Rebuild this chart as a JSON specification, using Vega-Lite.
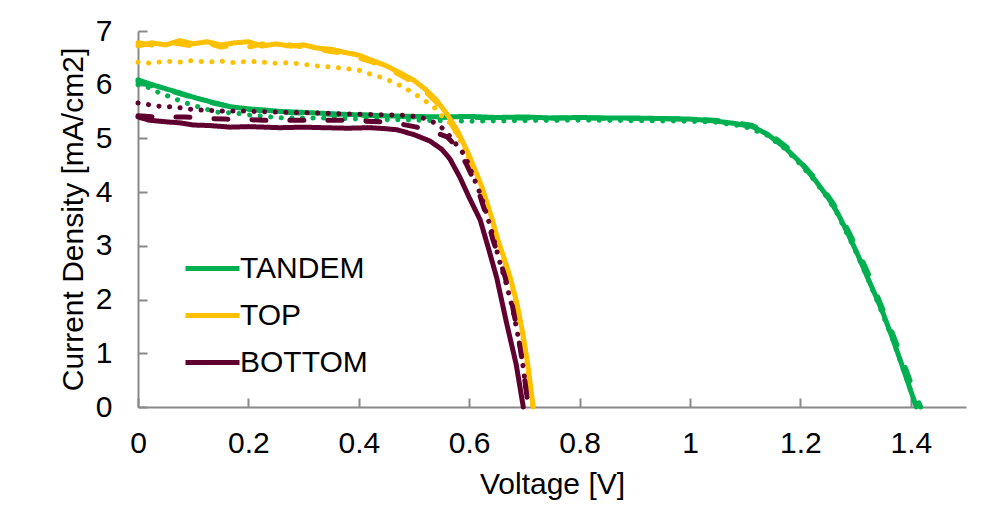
{
"$schema": "https://vega.github.io/schema/vega-lite/v6.json",
"width": 828, "height": 376,
"autosize": {"type": "none"},
"padding": {"left": 138, "top": 31, "right": 42, "bottom": 117},
"background": "white",
"config": {"view": {"stroke": null}, "font": "Liberation Sans"},
"data": {"values": [
{"cell":"TANDEM","curve":"dotted","V":0,"J":6.0},{"cell":"TANDEM","curve":"dotted","V":0.022,"J":5.94},{"cell":"TANDEM","curve":"dotted","V":0.04,"J":5.84},{"cell":"TANDEM","curve":"dotted","V":0.06,"J":5.77},{"cell":"TANDEM","curve":"dotted","V":0.08,"J":5.68},{"cell":"TANDEM","curve":"dotted","V":0.1,"J":5.62},{"cell":"TANDEM","curve":"dotted","V":0.118,"J":5.56},{"cell":"TANDEM","curve":"dotted","V":0.143,"J":5.49},{"cell":"TANDEM","curve":"dotted","V":0.179,"J":5.47},{"cell":"TANDEM","curve":"dotted","V":0.2,"J":5.44},{"cell":"TANDEM","curve":"dotted","V":0.263,"J":5.38},{"cell":"TANDEM","curve":"dotted","V":0.342,"J":5.38},{"cell":"TANDEM","curve":"dotted","V":0.4,"J":5.36},{"cell":"TANDEM","curve":"dotted","V":0.5,"J":5.34},{"cell":"TANDEM","curve":"dotted","V":0.6,"J":5.32},{"cell":"TANDEM","curve":"dotted","V":0.7,"J":5.33},{"cell":"TANDEM","curve":"dotted","V":0.8,"J":5.34},{"cell":"TANDEM","curve":"dotted","V":0.9,"J":5.33},{"cell":"TANDEM","curve":"dotted","V":1.0,"J":5.32},{"cell":"TANDEM","curve":"dotted","V":1.05,"J":5.3},{"cell":"TANDEM","curve":"dotted","V":1.1,"J":5.22},{"cell":"TANDEM","curve":"dotted","V":1.14,"J":5.06},{"cell":"TANDEM","curve":"dotted","V":1.173,"J":4.8},{"cell":"TANDEM","curve":"dotted","V":1.2,"J":4.52},{"cell":"TANDEM","curve":"dotted","V":1.227,"J":4.2},{"cell":"TANDEM","curve":"dotted","V":1.25,"J":3.88},{"cell":"TANDEM","curve":"dotted","V":1.268,"J":3.58},{"cell":"TANDEM","curve":"dotted","V":1.302,"J":2.86},{"cell":"TANDEM","curve":"dotted","V":1.335,"J":2.08},{"cell":"TANDEM","curve":"dotted","V":1.365,"J":1.32},{"cell":"TANDEM","curve":"dotted","V":1.395,"J":0.45},{"cell":"TANDEM","curve":"dotted","V":1.41,"J":0},
{"cell":"TANDEM","curve":"dashed","V":0,"J":6.05},{"cell":"TANDEM","curve":"dashed","V":0.03,"J":5.97},{"cell":"TANDEM","curve":"dashed","V":0.06,"J":5.88},{"cell":"TANDEM","curve":"dashed","V":0.1,"J":5.76},{"cell":"TANDEM","curve":"dashed","V":0.14,"J":5.65},{"cell":"TANDEM","curve":"dashed","V":0.18,"J":5.57},{"cell":"TANDEM","curve":"dashed","V":0.22,"J":5.52},{"cell":"TANDEM","curve":"dashed","V":0.28,"J":5.48},{"cell":"TANDEM","curve":"dashed","V":0.35,"J":5.45},{"cell":"TANDEM","curve":"dashed","V":0.42,"J":5.43},{"cell":"TANDEM","curve":"dashed","V":0.5,"J":5.4},{"cell":"TANDEM","curve":"dashed","V":0.6,"J":5.39},{"cell":"TANDEM","curve":"dashed","V":0.7,"J":5.38},{"cell":"TANDEM","curve":"dashed","V":0.8,"J":5.38},{"cell":"TANDEM","curve":"dashed","V":0.9,"J":5.37},{"cell":"TANDEM","curve":"dashed","V":1.0,"J":5.36},{"cell":"TANDEM","curve":"dashed","V":1.06,"J":5.33},{"cell":"TANDEM","curve":"dashed","V":1.113,"J":5.24},{"cell":"TANDEM","curve":"dashed","V":1.14,"J":5.12},{"cell":"TANDEM","curve":"dashed","V":1.18,"J":4.8},{"cell":"TANDEM","curve":"dashed","V":1.21,"J":4.45},{"cell":"TANDEM","curve":"dashed","V":1.235,"J":4.15},{"cell":"TANDEM","curve":"dashed","V":1.26,"J":3.78},{"cell":"TANDEM","curve":"dashed","V":1.28,"J":3.42},{"cell":"TANDEM","curve":"dashed","V":1.3,"J":3.0},{"cell":"TANDEM","curve":"dashed","V":1.32,"J":2.55},{"cell":"TANDEM","curve":"dashed","V":1.34,"J":2.05},{"cell":"TANDEM","curve":"dashed","V":1.36,"J":1.55},{"cell":"TANDEM","curve":"dashed","V":1.38,"J":1.02},{"cell":"TANDEM","curve":"dashed","V":1.4,"J":0.45},{"cell":"TANDEM","curve":"dashed","V":1.418,"J":0},
{"cell":"TANDEM","curve":"solid","V":0,"J":6.09},{"cell":"TANDEM","curve":"solid","V":0.02,"J":6.02},{"cell":"TANDEM","curve":"solid","V":0.045,"J":5.94},{"cell":"TANDEM","curve":"solid","V":0.075,"J":5.85},{"cell":"TANDEM","curve":"solid","V":0.106,"J":5.75},{"cell":"TANDEM","curve":"solid","V":0.135,"J":5.67},{"cell":"TANDEM","curve":"solid","V":0.167,"J":5.59},{"cell":"TANDEM","curve":"solid","V":0.2,"J":5.55},{"cell":"TANDEM","curve":"solid","V":0.227,"J":5.53},{"cell":"TANDEM","curve":"solid","V":0.26,"J":5.5},{"cell":"TANDEM","curve":"solid","V":0.29,"J":5.49},{"cell":"TANDEM","curve":"solid","V":0.33,"J":5.47},{"cell":"TANDEM","curve":"solid","V":0.37,"J":5.45},{"cell":"TANDEM","curve":"solid","V":0.4,"J":5.44},{"cell":"TANDEM","curve":"solid","V":0.45,"J":5.42},{"cell":"TANDEM","curve":"solid","V":0.5,"J":5.41},{"cell":"TANDEM","curve":"solid","V":0.55,"J":5.4},{"cell":"TANDEM","curve":"solid","V":0.6,"J":5.41},{"cell":"TANDEM","curve":"solid","V":0.65,"J":5.39},{"cell":"TANDEM","curve":"solid","V":0.7,"J":5.4},{"cell":"TANDEM","curve":"solid","V":0.75,"J":5.38},{"cell":"TANDEM","curve":"solid","V":0.8,"J":5.39},{"cell":"TANDEM","curve":"solid","V":0.85,"J":5.38},{"cell":"TANDEM","curve":"solid","V":0.9,"J":5.38},{"cell":"TANDEM","curve":"solid","V":0.95,"J":5.37},{"cell":"TANDEM","curve":"solid","V":1.0,"J":5.36},{"cell":"TANDEM","curve":"solid","V":1.04,"J":5.33},{"cell":"TANDEM","curve":"solid","V":1.08,"J":5.28},{"cell":"TANDEM","curve":"solid","V":1.113,"J":5.22},{"cell":"TANDEM","curve":"solid","V":1.14,"J":5.08},{"cell":"TANDEM","curve":"solid","V":1.173,"J":4.82},{"cell":"TANDEM","curve":"solid","V":1.2,"J":4.55},{"cell":"TANDEM","curve":"solid","V":1.227,"J":4.22},{"cell":"TANDEM","curve":"solid","V":1.25,"J":3.9},{"cell":"TANDEM","curve":"solid","V":1.268,"J":3.6},{"cell":"TANDEM","curve":"solid","V":1.285,"J":3.25},{"cell":"TANDEM","curve":"solid","V":1.302,"J":2.88},{"cell":"TANDEM","curve":"solid","V":1.32,"J":2.45},{"cell":"TANDEM","curve":"solid","V":1.335,"J":2.1},{"cell":"TANDEM","curve":"solid","V":1.35,"J":1.74},{"cell":"TANDEM","curve":"solid","V":1.365,"J":1.33},{"cell":"TANDEM","curve":"solid","V":1.38,"J":0.9},{"cell":"TANDEM","curve":"solid","V":1.395,"J":0.45},{"cell":"TANDEM","curve":"solid","V":1.41,"J":0},
{"cell":"TOP","curve":"dotted","V":0,"J":6.42},{"cell":"TOP","curve":"dotted","V":0.025,"J":6.4},{"cell":"TOP","curve":"dotted","V":0.05,"J":6.44},{"cell":"TOP","curve":"dotted","V":0.075,"J":6.42},{"cell":"TOP","curve":"dotted","V":0.1,"J":6.45},{"cell":"TOP","curve":"dotted","V":0.125,"J":6.42},{"cell":"TOP","curve":"dotted","V":0.15,"J":6.44},{"cell":"TOP","curve":"dotted","V":0.175,"J":6.41},{"cell":"TOP","curve":"dotted","V":0.2,"J":6.44},{"cell":"TOP","curve":"dotted","V":0.225,"J":6.42},{"cell":"TOP","curve":"dotted","V":0.25,"J":6.4},{"cell":"TOP","curve":"dotted","V":0.275,"J":6.41},{"cell":"TOP","curve":"dotted","V":0.3,"J":6.38},{"cell":"TOP","curve":"dotted","V":0.325,"J":6.35},{"cell":"TOP","curve":"dotted","V":0.35,"J":6.33},{"cell":"TOP","curve":"dotted","V":0.375,"J":6.3},{"cell":"TOP","curve":"dotted","V":0.4,"J":6.27},{"cell":"TOP","curve":"dotted","V":0.42,"J":6.2},{"cell":"TOP","curve":"dotted","V":0.44,"J":6.14},{"cell":"TOP","curve":"dotted","V":0.46,"J":6.06},{"cell":"TOP","curve":"dotted","V":0.48,"J":5.96},{"cell":"TOP","curve":"dotted","V":0.5,"J":5.84},{"cell":"TOP","curve":"dotted","V":0.52,"J":5.7},{"cell":"TOP","curve":"dotted","V":0.535,"J":5.6},{"cell":"TOP","curve":"dotted","V":0.547,"J":5.44},{"cell":"TOP","curve":"dotted","V":0.56,"J":5.36},{"cell":"TOP","curve":"dotted","V":0.58,"J":5.05},{"cell":"TOP","curve":"dotted","V":0.6,"J":4.6},{"cell":"TOP","curve":"dotted","V":0.623,"J":4.05},{"cell":"TOP","curve":"dotted","V":0.652,"J":3.08},{"cell":"TOP","curve":"dotted","V":0.674,"J":2.4},{"cell":"TOP","curve":"dotted","V":0.696,"J":1.4},{"cell":"TOP","curve":"dotted","V":0.715,"J":0},
{"cell":"TOP","curve":"dashed","V":0,"J":6.78},{"cell":"TOP","curve":"dashed","V":0.025,"J":6.74},{"cell":"TOP","curve":"dashed","V":0.05,"J":6.8},{"cell":"TOP","curve":"dashed","V":0.075,"J":6.76},{"cell":"TOP","curve":"dashed","V":0.1,"J":6.72},{"cell":"TOP","curve":"dashed","V":0.125,"J":6.78},{"cell":"TOP","curve":"dashed","V":0.15,"J":6.7},{"cell":"TOP","curve":"dashed","V":0.175,"J":6.74},{"cell":"TOP","curve":"dashed","V":0.2,"J":6.7},{"cell":"TOP","curve":"dashed","V":0.225,"J":6.76},{"cell":"TOP","curve":"dashed","V":0.25,"J":6.68},{"cell":"TOP","curve":"dashed","V":0.275,"J":6.74},{"cell":"TOP","curve":"dashed","V":0.3,"J":6.7},{"cell":"TOP","curve":"dashed","V":0.325,"J":6.66},{"cell":"TOP","curve":"dashed","V":0.35,"J":6.62},{"cell":"TOP","curve":"dashed","V":0.375,"J":6.58},{"cell":"TOP","curve":"dashed","V":0.4,"J":6.5},{"cell":"TOP","curve":"dashed","V":0.425,"J":6.42},{"cell":"TOP","curve":"dashed","V":0.45,"J":6.32},{"cell":"TOP","curve":"dashed","V":0.475,"J":6.18},{"cell":"TOP","curve":"dashed","V":0.5,"J":6.04},{"cell":"TOP","curve":"dashed","V":0.52,"J":5.88},{"cell":"TOP","curve":"dashed","V":0.54,"J":5.68},{"cell":"TOP","curve":"dashed","V":0.56,"J":5.4},{"cell":"TOP","curve":"dashed","V":0.58,"J":5.06},{"cell":"TOP","curve":"dashed","V":0.6,"J":4.62},{"cell":"TOP","curve":"dashed","V":0.623,"J":4.04},{"cell":"TOP","curve":"dashed","V":0.64,"J":3.5},{"cell":"TOP","curve":"dashed","V":0.652,"J":3.07},{"cell":"TOP","curve":"dashed","V":0.664,"J":2.7},{"cell":"TOP","curve":"dashed","V":0.674,"J":2.37},{"cell":"TOP","curve":"dashed","V":0.686,"J":1.9},{"cell":"TOP","curve":"dashed","V":0.696,"J":1.38},{"cell":"TOP","curve":"dashed","V":0.706,"J":0.75},{"cell":"TOP","curve":"dashed","V":0.714,"J":0},
{"cell":"TOP","curve":"solid","V":0,"J":6.72},{"cell":"TOP","curve":"solid","V":0.025,"J":6.78},{"cell":"TOP","curve":"solid","V":0.05,"J":6.74},{"cell":"TOP","curve":"solid","V":0.075,"J":6.82},{"cell":"TOP","curve":"solid","V":0.1,"J":6.76},{"cell":"TOP","curve":"solid","V":0.125,"J":6.8},{"cell":"TOP","curve":"solid","V":0.15,"J":6.74},{"cell":"TOP","curve":"solid","V":0.175,"J":6.78},{"cell":"TOP","curve":"solid","V":0.2,"J":6.8},{"cell":"TOP","curve":"solid","V":0.225,"J":6.72},{"cell":"TOP","curve":"solid","V":0.25,"J":6.76},{"cell":"TOP","curve":"solid","V":0.275,"J":6.72},{"cell":"TOP","curve":"solid","V":0.3,"J":6.74},{"cell":"TOP","curve":"solid","V":0.325,"J":6.68},{"cell":"TOP","curve":"solid","V":0.35,"J":6.66},{"cell":"TOP","curve":"solid","V":0.375,"J":6.6},{"cell":"TOP","curve":"solid","V":0.4,"J":6.55},{"cell":"TOP","curve":"solid","V":0.425,"J":6.45},{"cell":"TOP","curve":"solid","V":0.45,"J":6.35},{"cell":"TOP","curve":"solid","V":0.475,"J":6.22},{"cell":"TOP","curve":"solid","V":0.5,"J":6.08},{"cell":"TOP","curve":"solid","V":0.52,"J":5.92},{"cell":"TOP","curve":"solid","V":0.54,"J":5.72},{"cell":"TOP","curve":"solid","V":0.56,"J":5.45},{"cell":"TOP","curve":"solid","V":0.58,"J":5.12},{"cell":"TOP","curve":"solid","V":0.6,"J":4.68},{"cell":"TOP","curve":"solid","V":0.623,"J":4.1},{"cell":"TOP","curve":"solid","V":0.64,"J":3.55},{"cell":"TOP","curve":"solid","V":0.652,"J":3.11},{"cell":"TOP","curve":"solid","V":0.664,"J":2.75},{"cell":"TOP","curve":"solid","V":0.674,"J":2.42},{"cell":"TOP","curve":"solid","V":0.686,"J":1.95},{"cell":"TOP","curve":"solid","V":0.696,"J":1.43},{"cell":"TOP","curve":"solid","V":0.706,"J":0.8},{"cell":"TOP","curve":"solid","V":0.716,"J":0},
{"cell":"BOTTOM","curve":"dotted","V":0,"J":5.66},{"cell":"BOTTOM","curve":"dotted","V":0.025,"J":5.62},{"cell":"BOTTOM","curve":"dotted","V":0.045,"J":5.59},{"cell":"BOTTOM","curve":"dotted","V":0.065,"J":5.59},{"cell":"BOTTOM","curve":"dotted","V":0.089,"J":5.55},{"cell":"BOTTOM","curve":"dotted","V":0.109,"J":5.53},{"cell":"BOTTOM","curve":"dotted","V":0.149,"J":5.51},{"cell":"BOTTOM","curve":"dotted","V":0.19,"J":5.51},{"cell":"BOTTOM","curve":"dotted","V":0.25,"J":5.49},{"cell":"BOTTOM","curve":"dotted","V":0.333,"J":5.47},{"cell":"BOTTOM","curve":"dotted","V":0.4,"J":5.45},{"cell":"BOTTOM","curve":"dotted","V":0.45,"J":5.44},{"cell":"BOTTOM","curve":"dotted","V":0.49,"J":5.43},{"cell":"BOTTOM","curve":"dotted","V":0.516,"J":5.38},{"cell":"BOTTOM","curve":"dotted","V":0.534,"J":5.31},{"cell":"BOTTOM","curve":"dotted","V":0.553,"J":5.18},{"cell":"BOTTOM","curve":"dotted","V":0.568,"J":5.0},{"cell":"BOTTOM","curve":"dotted","V":0.583,"J":4.8},{"cell":"BOTTOM","curve":"dotted","V":0.592,"J":4.69},{"cell":"BOTTOM","curve":"dotted","V":0.607,"J":4.3},{"cell":"BOTTOM","curve":"dotted","V":0.623,"J":3.89},{"cell":"BOTTOM","curve":"dotted","V":0.641,"J":3.26},{"cell":"BOTTOM","curve":"dotted","V":0.656,"J":2.68},{"cell":"BOTTOM","curve":"dotted","V":0.667,"J":2.3},{"cell":"BOTTOM","curve":"dotted","V":0.678,"J":1.86},{"cell":"BOTTOM","curve":"dotted","V":0.687,"J":1.4},{"cell":"BOTTOM","curve":"dotted","V":0.696,"J":0.88},{"cell":"BOTTOM","curve":"dotted","V":0.707,"J":0},
{"cell":"BOTTOM","curve":"dashed","V":0,"J":5.42},{"cell":"BOTTOM","curve":"dashed","V":0.03,"J":5.4},{"cell":"BOTTOM","curve":"dashed","V":0.085,"J":5.4},{"cell":"BOTTOM","curve":"dashed","V":0.12,"J":5.37},{"cell":"BOTTOM","curve":"dashed","V":0.158,"J":5.36},{"cell":"BOTTOM","curve":"dashed","V":0.2,"J":5.35},{"cell":"BOTTOM","curve":"dashed","V":0.227,"J":5.34},{"cell":"BOTTOM","curve":"dashed","V":0.3,"J":5.34},{"cell":"BOTTOM","curve":"dashed","V":0.37,"J":5.34},{"cell":"BOTTOM","curve":"dashed","V":0.438,"J":5.31},{"cell":"BOTTOM","curve":"dashed","V":0.47,"J":5.28},{"cell":"BOTTOM","curve":"dashed","V":0.505,"J":5.21},{"cell":"BOTTOM","curve":"dashed","V":0.53,"J":5.14},{"cell":"BOTTOM","curve":"dashed","V":0.56,"J":5.03},{"cell":"BOTTOM","curve":"dashed","V":0.578,"J":4.84},{"cell":"BOTTOM","curve":"dashed","V":0.595,"J":4.52},{"cell":"BOTTOM","curve":"dashed","V":0.614,"J":4.1},{"cell":"BOTTOM","curve":"dashed","V":0.63,"J":3.6},{"cell":"BOTTOM","curve":"dashed","V":0.643,"J":3.11},{"cell":"BOTTOM","curve":"dashed","V":0.655,"J":2.75},{"cell":"BOTTOM","curve":"dashed","V":0.665,"J":2.42},{"cell":"BOTTOM","curve":"dashed","V":0.677,"J":1.95},{"cell":"BOTTOM","curve":"dashed","V":0.687,"J":1.43},{"cell":"BOTTOM","curve":"dashed","V":0.697,"J":0.8},{"cell":"BOTTOM","curve":"dashed","V":0.707,"J":0},
{"cell":"BOTTOM","curve":"solid","V":0,"J":5.4},{"cell":"BOTTOM","curve":"solid","V":0.02,"J":5.34},{"cell":"BOTTOM","curve":"solid","V":0.05,"J":5.31},{"cell":"BOTTOM","curve":"solid","V":0.076,"J":5.29},{"cell":"BOTTOM","curve":"solid","V":0.1,"J":5.25},{"cell":"BOTTOM","curve":"solid","V":0.13,"J":5.24},{"cell":"BOTTOM","curve":"solid","V":0.167,"J":5.21},{"cell":"BOTTOM","curve":"solid","V":0.2,"J":5.22},{"cell":"BOTTOM","curve":"solid","V":0.257,"J":5.2},{"cell":"BOTTOM","curve":"solid","V":0.3,"J":5.21},{"cell":"BOTTOM","curve":"solid","V":0.335,"J":5.2},{"cell":"BOTTOM","curve":"solid","V":0.38,"J":5.19},{"cell":"BOTTOM","curve":"solid","V":0.42,"J":5.2},{"cell":"BOTTOM","curve":"solid","V":0.45,"J":5.18},{"cell":"BOTTOM","curve":"solid","V":0.47,"J":5.16},{"cell":"BOTTOM","curve":"solid","V":0.5,"J":5.07},{"cell":"BOTTOM","curve":"solid","V":0.529,"J":4.95},{"cell":"BOTTOM","curve":"solid","V":0.55,"J":4.8},{"cell":"BOTTOM","curve":"solid","V":0.565,"J":4.62},{"cell":"BOTTOM","curve":"solid","V":0.583,"J":4.28},{"cell":"BOTTOM","curve":"solid","V":0.6,"J":3.9},{"cell":"BOTTOM","curve":"solid","V":0.62,"J":3.48},{"cell":"BOTTOM","curve":"solid","V":0.635,"J":2.95},{"cell":"BOTTOM","curve":"solid","V":0.65,"J":2.4},{"cell":"BOTTOM","curve":"solid","V":0.668,"J":1.55},{"cell":"BOTTOM","curve":"solid","V":0.685,"J":0.8},{"cell":"BOTTOM","curve":"solid","V":0.698,"J":0}
]},
"mark": {"type": "line", "strokeWidth": 5, "strokeCap": "round", "strokeJoin": "round", "clip": false},
"encoding": {
"x": {"field": "V", "type": "quantitative",
 "scale": {"domain": [0, 1.5], "nice": false, "zero": false},
 "axis": {"title": "Voltage [V]", "values": [0, 0.2, 0.4, 0.6, 0.8, 1, 1.2, 1.4], "format": "~g", "labelFlush": false,
  "grid": false, "domainColor": "#898989", "domainWidth": 2, "tickColor": "#898989", "tickWidth": 2, "tickSize": -9,
  "labelPadding": 30, "labelFontSize": 30, "labelColor": "black", "labelFont": "Liberation Sans",
  "titleFontSize": 30, "titleFontWeight": "normal", "titleColor": "black", "titleFont": "Liberation Sans", "titlePadding": 11}},
"y": {"field": "J", "type": "quantitative",
 "scale": {"domain": [0, 7], "nice": false},
 "axis": {"title": "Current Density [mA/cm2]", "values": [0, 1, 2, 3, 4, 5, 6, 7], "format": "d", "labelFlush": false,
  "grid": false, "domainColor": "#898989", "domainWidth": 2, "tickColor": "#898989", "tickWidth": 2, "tickSize": -9,
  "labelPadding": 35, "labelFontSize": 30, "labelColor": "black", "labelFont": "Liberation Sans",
  "titleFontSize": 30, "titleFontWeight": "normal", "titleColor": "black", "titleFont": "Liberation Sans", "titlePadding": 7}},
"color": {"field": "cell", "type": "nominal",
 "scale": {"domain": ["TANDEM", "TOP", "BOTTOM"], "range": ["#00B050", "#FFC000", "#600030"]},
 "legend": {"title": null, "orient": "none", "legendX": 52, "legendY": 215, "padding": 0,
  "symbolType": "M-1.35,0H1.35", "symbolSize": 1600, "symbolStrokeWidth": 5, "labelOffset": 5, "rowPadding": 9,
  "labelFontSize": 30, "labelColor": "black", "labelFont": "Liberation Sans", "labelLimit": 300}},
"strokeDash": {"field": "curve", "type": "nominal",
 "scale": {"domain": ["solid", "dashed", "dotted"], "range": [[1, 0], [14, 24], [0.1, 10.5]]},
 "legend": null}
}
}
